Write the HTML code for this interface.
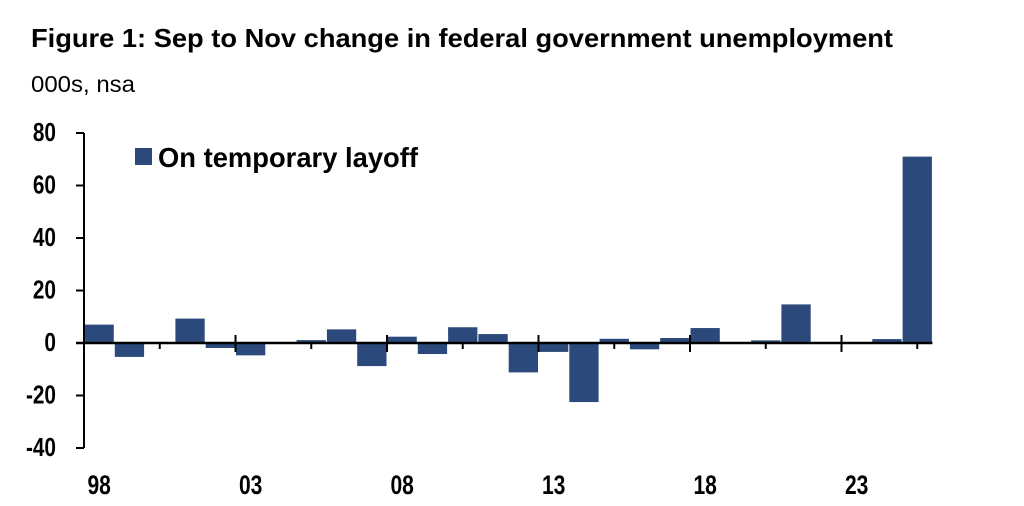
<!DOCTYPE html>
<html><head><meta charset="utf-8"><style>
html,body{margin:0;padding:0;background:#fff;width:1024px;height:506px;overflow:hidden}
svg{display:block;font-family:"Liberation Sans",Arial,sans-serif}
</style></head><body>
<svg id="chart" width="1024" height="506" viewBox="0 0 1024 506">
<text x="31" y="47" font-size="26" font-weight="bold" textLength="862" lengthAdjust="spacingAndGlyphs">Figure 1: Sep to Nov change in federal government unemployment</text>
<text x="31" y="92" font-size="23" textLength="104" lengthAdjust="spacingAndGlyphs">000s, nsa</text>
<g id="bars"></g>
<g id="axes"></g>
<rect x="135" y="148" width="17" height="17" fill="#2b4a7b"/>
<text x="158" y="167" font-size="28" font-weight="bold" textLength="260" lengthAdjust="spacingAndGlyphs">On temporary layoff</text>
</svg>
<script>
const years = [1998,1999,2000,2001,2002,2003,2004,2005,2006,2007,2008,2009,2010,2011,2012,2013,2014,2015,2016,2017,2018,2019,2020,2021,2022,2023,2024,2025];
const values = [7.0,-5.3,0,9.3,-1.9,-4.7,0,1.1,5.2,-8.8,2.4,-4.2,6.0,3.4,-11.2,-3.4,-22.5,1.6,-2.4,1.9,5.7,0,1.0,14.7,0,0,1.5,71];
const yTicks = [80,60,40,20,0,-20,-40];
const xLabels = ["98","03","08","13","18","23"];
const xLabelYears = [1998,2003,2008,2013,2018,2023];

const NS="http://www.w3.org/2000/svg";
const x0=84, bw=30.3, yMin=-40, yMax=80, yTop=133, yBot=448;
function y(v){return yTop+(yMax-v)*(yBot-yTop)/(yMax-yMin);}
function xs(i){return x0+i*bw;}
function mk(tag,attrs,parent){const e=document.createElementNS(NS,tag);for(const k in attrs)e.setAttribute(k,attrs[k]);parent.appendChild(e);return e;}
const bars=document.getElementById('bars'), axes=document.getElementById('axes');
values.forEach((v,i)=>{
  const r=mk('rect',{x:xs(i)+0.5,y:Math.min(y(v),y(0)),width:bw-1,height:Math.abs(y(v)-y(0)),fill:'#2b4a7b'},bars);
  
  
});
const ya=mk('line',{x1:x0,y1:yTop,x2:x0,y2:yBot,stroke:'#000','stroke-width':2},axes);


yTicks.forEach(t=>{
  mk('line',{x1:x0-8,y1:y(t),x2:x0,y2:y(t),stroke:'#000','stroke-width':2},axes);
  const tx=mk('text',{x:0,y:0,transform:'translate(56,'+(y(t)+8)+') scale(0.8,1)','font-size':26,'font-weight':'bold','text-anchor':'end'},axes);
  tx.textContent=t;
  
  
});
const xEnd=xs(years.length);
const xa=mk('line',{x1:x0-8,y1:y(0),x2:xEnd,y2:y(0),stroke:'#000','stroke-width':2.5},axes);


for(let k=1;k<=years.length/2.5;k++){
  const xx=x0+k*2.5*bw, major=k%2===0;
  mk('line',{x1:xx,y1:y(0)-(major?8:0),x2:xx,y2:y(0)+(major?9:6),stroke:'#000','stroke-width':2},axes);
}
xLabels.forEach((l,j)=>{
  const i=years.indexOf(xLabelYears[j]);
  const tx=mk('text',{x:0,y:0,transform:'translate('+(xs(i)+bw/2)+',494) scale(0.78,1)','font-size':27,'font-weight':'bold','text-anchor':'middle'},axes);
  tx.textContent=l;
  
  
});
</script>
</body></html>
